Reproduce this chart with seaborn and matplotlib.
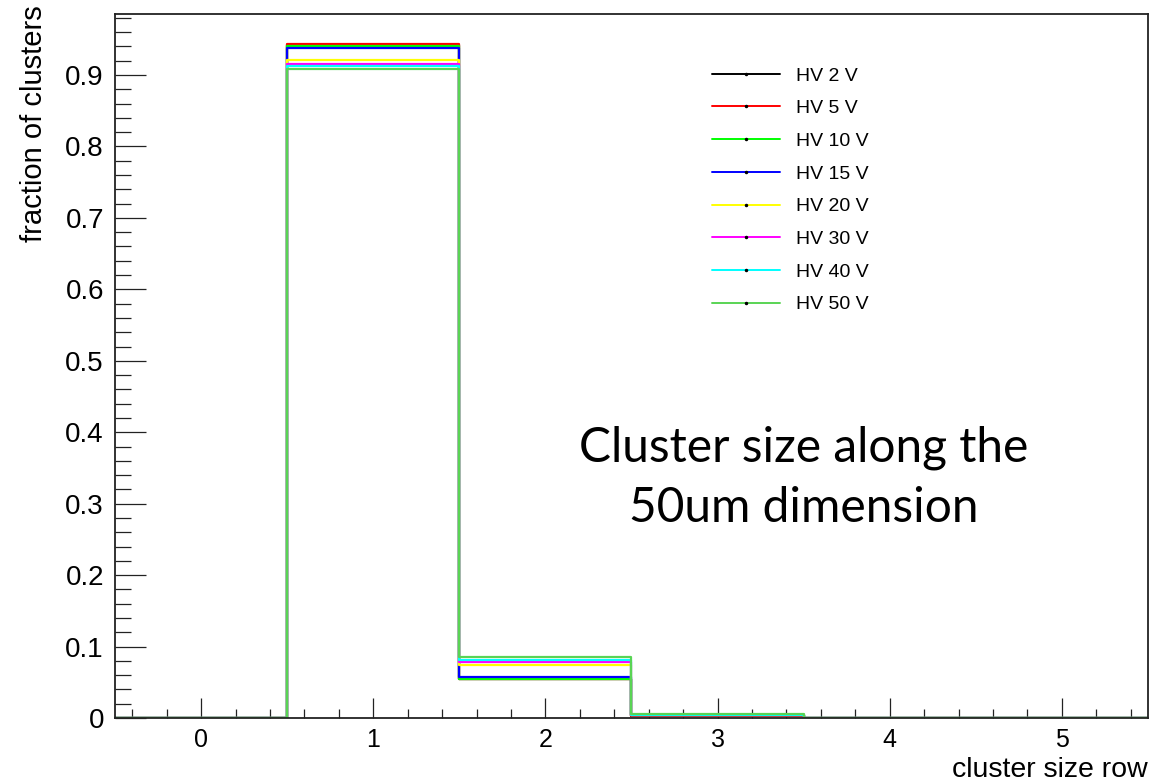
import numpy as np
import pandas as pd
import matplotlib
matplotlib.use("Agg")
import matplotlib.pyplot as plt
from matplotlib import ticker
from matplotlib.lines import Line2D
import seaborn as sns

# ---- data ----
cluster_size = [0, 1, 2, 3, 4, 5]
hv_labels = ["HV 2 V", "HV 5 V", "HV 10 V", "HV 15 V", "HV 20 V", "HV 30 V", "HV 40 V", "HV 50 V"]
colors = ["#000000", "#ff0000", "#00ff00", "#0000ff", "#ffff00", "#ff00ff", "#00ffff", "#59d454"]

frac_2V = [0.0, 0.942, 0.0545, 0.0030, 0.0004, 0.0001]
frac_5V = [0.0, 0.943, 0.0545, 0.0030, 0.0004, 0.0001]
frac_10V = [0.0, 0.941, 0.0550, 0.0035, 0.0004, 0.0001]
frac_15V = [0.0, 0.9385, 0.0570, 0.0040, 0.0004, 0.0001]
frac_20V = [0.0, 0.921, 0.0742, 0.0040, 0.0005, 0.0001]
frac_30V = [0.0, 0.916, 0.0784, 0.0045, 0.0005, 0.0001]
frac_40V = [0.0, 0.913, 0.0812, 0.0045, 0.0005, 0.0001]
frac_50V = [0.0, 0.909, 0.0858, 0.0050, 0.0005, 0.0001]
series = [frac_2V, frac_5V, frac_10V, frac_15V, frac_20V, frac_30V, frac_40V, frac_50V]

rows = []
for lab, vals in zip(hv_labels, series):
    for s, v in zip(cluster_size, vals):
        rows.append({"size": s, "fraction": v, "hv": lab})
df = pd.DataFrame(rows)

sns.set_theme(style="white")
plt.rcParams["font.family"] = ["Liberation Sans", "DejaVu Sans"]
plt.rcParams["text.color"] = "black"
plt.rcParams["xtick.color"] = "black"
plt.rcParams["ytick.color"] = "black"
plt.rcParams["axes.labelcolor"] = "black"

fig = plt.figure(figsize=(11.57, 7.84), dpi=100)
ax = fig.add_axes([0.0994, 0.0842, 0.9922 - 0.0994, 0.9821 - 0.0842])

for lab, col in zip(hv_labels, colors):
    sns.histplot(data=df[df["hv"] == lab], x="size", weights="fraction", discrete=True,
                 element="step", fill=False, color=col, linewidth=1.6, ax=ax)

ax.set_xlim(-0.5, 5.5)
ax.set_ylim(0, 0.9854)

ax.xaxis.set_major_locator(ticker.MultipleLocator(1))
ax.xaxis.set_minor_locator(ticker.MultipleLocator(0.2))
ax.yaxis.set_major_locator(ticker.MultipleLocator(0.1))
ax.yaxis.set_minor_locator(ticker.MultipleLocator(0.02))
ax.yaxis.set_major_formatter(ticker.FuncFormatter(lambda v, p: f"{v:g}"))

ax.tick_params(axis="x", which="major", direction="in", length=14.4, width=0.9,
               labelsize=18, pad=7, color="#222222", bottom=True, top=False)
ax.tick_params(axis="x", which="minor", direction="in", length=6.5, width=0.9,
               color="#222222", bottom=True, top=False)
ax.tick_params(axis="y", which="major", direction="in", length=22, width=0.9,
               labelsize=20, pad=8, color="#222222", left=True, right=False)
ax.tick_params(axis="y", which="minor", direction="in", length=11.5, width=0.9,
               color="#222222", left=True, right=False)

for sp in ax.spines.values():
    sp.set_color("#222222")
    sp.set_linewidth(1.3)

ax.set_xlabel("cluster size row", fontsize=20.5)
ax.set_ylabel("fraction of clusters", fontsize=21)
ax.xaxis.set_label_coords(1.0, -0.056)
ax.xaxis.label.set_horizontalalignment("right")
ax.xaxis.label.set_verticalalignment("top")
ax.yaxis.set_label_coords(-0.078, 1.012)
ax.yaxis.label.set_verticalalignment("center")
ax.yaxis.label.set_horizontalalignment("right")

handles = [Line2D([0], [0], color=c, linewidth=1.4, marker="o", markersize=1.5,
                  markerfacecolor="black", markeredgecolor="black") for c in colors]
leg = ax.legend(handles, hv_labels, loc="upper left", bbox_to_anchor=(712 / 1157, 1 - 67 / 784),
                bbox_transform=fig.transFigure, frameon=False, fontsize=14,
                handlelength=3.5, handletextpad=0.8, labelspacing=0.775, borderaxespad=0,
                borderpad=0)

fig.text(804 / 1157, 1 - 478 / 784, "Cluster size along the\n50um dimension",
         ha="center", va="center", fontsize=34.5, family=["Lato", "DejaVu Sans"],
         linespacing=1.45, color="black")

fig.savefig("out.png", dpi=100)
